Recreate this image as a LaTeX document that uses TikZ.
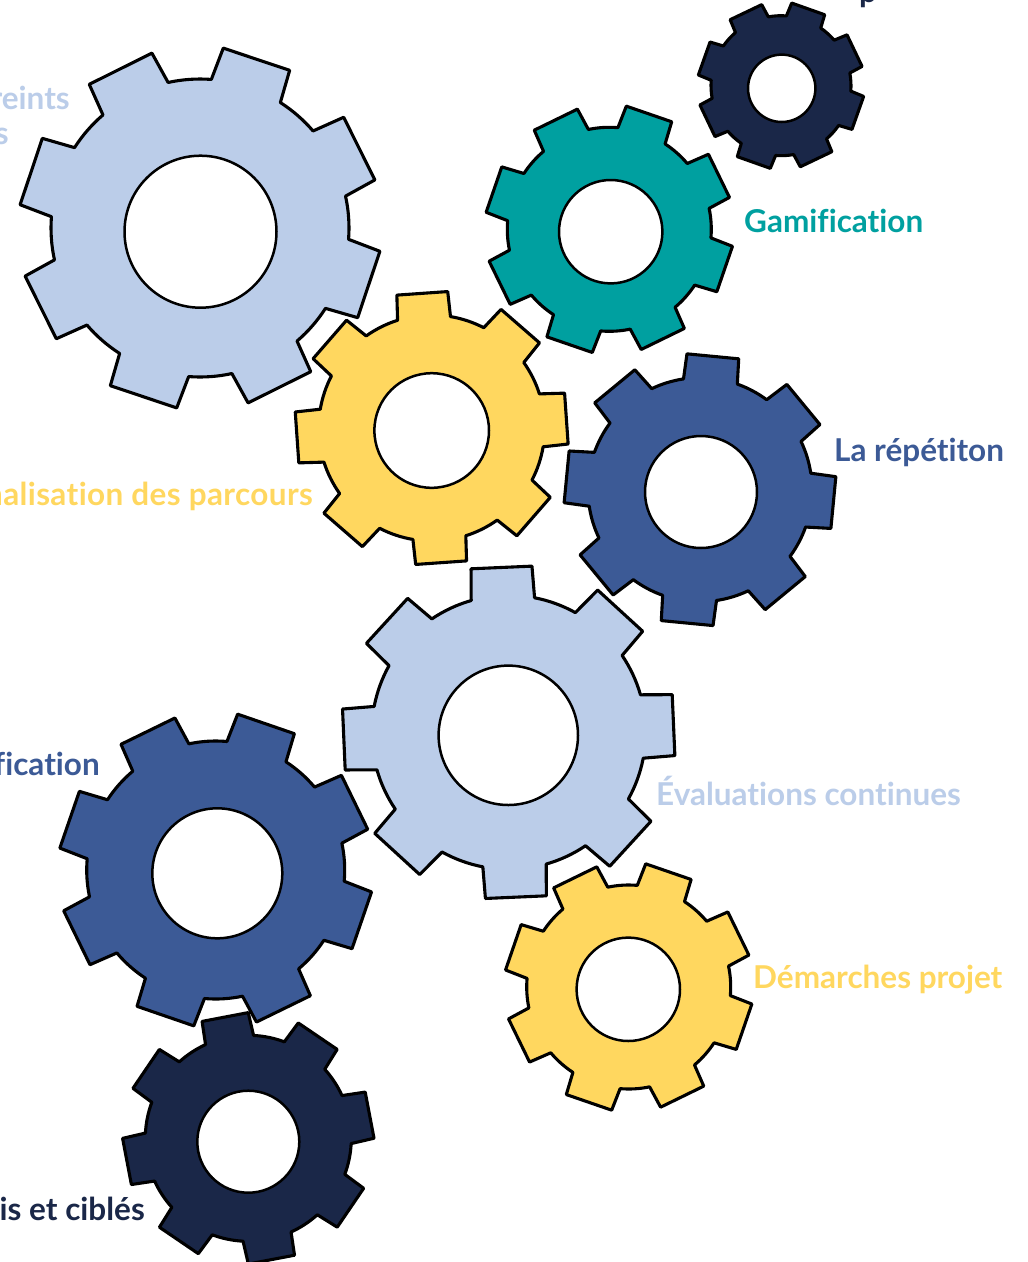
\documentclass[tikz,border=0pt]{standalone}
\usepackage{fontspec}
\newfontfamily\lblfont{Lato}[BoldFont={Lato Bold},Ligatures=NoCommon]
\definecolor{gLight}{HTML}{BBCDE9}
\definecolor{gYellow}{HTML}{FFD75F}
\definecolor{gTeal}{HTML}{00A0A0}
\definecolor{gBlue}{HTML}{3C5A96}
\definecolor{gNavy}{HTML}{1A2748}
\tikzset{
  gearline/.style={draw=black,line width=3.1pt,line join=round},
  holeline/.style={draw=black,line width=2.5pt,fill=white},
  lbl/.style={inner sep=0pt,font=\fontsize{31.5}{36}\selectfont\lblfont\bfseries}
}
% fill, cx, cy, rotation, tip radius, root radius, half tooth width, hole centre, hole radius
\newcommand{\cog}[9]{%
  \begin{scope}[shift={(#2,#3)}]
    \pgfmathsetmacro\cogda{asin(1.04*#7/#6)}
    \pgfmathsetmacro\cogdb{atan(#7/#5)}
    \pgfmathsetmacro\cogdt{veclen(#5,#7)}
    \draw[gearline,fill=#1] (#4-45+\cogda:#6)
      \foreach \a in {0,45,...,315} {
        arc[start angle=#4+\a-45+\cogda,end angle=#4+\a-\cogda,radius=#6]
        -- (#4+\a-\cogdb:\cogdt) -- (#4+\a+\cogdb:\cogdt) -- (#4+\a+\cogda:#6)
      } -- cycle;
  \end{scope}
  \draw[holeline] #8 circle[radius=#9];
}
\begin{document}
\begin{tikzpicture}[x=1pt,y=1pt]
\useasboundingbox (0,0) rectangle (1028,-1262);
\fill[white] (0,0) rectangle (1028,-1262);
\cog{gLight}{200}{-228}{26.5}{178}{149}{35}{(200.5,-231.7)}{76}
\cog{gNavy}{781}{-85.7}{25.5}{81.5}{70}{17.5}{(781.7,-88.3)}{33.7}
\cog{gTeal}{609.3}{-229.3}{26}{122}{102}{24}{(610.7,-231.7)}{51.7}
\cog{gYellow}{431.7}{-428}{4}{135}{113}{25.5}{(431.7,-430.5)}{57.3}
\cog{gBlue}{700}{-489.7}{-5.5}{134}{112}{26}{(701,-492)}{56}
\cog{gLight}{508.7}{-732.3}{2.5}{165}{137}{30.5}{(508.3,-735.3)}{69.7}
\cog{gBlue}{215.7}{-870}{26}{154.5}{129}{30}{(217.3,-873.3)}{65}
\cog{gYellow}{628.7}{-987}{26}{122}{102}{24}{(628.3,-989.3)}{51.7}
\cog{gNavy}{248.3}{-1138.3}{10.8}{123.5}{103}{23.5}{(248.3,-1141.7)}{51}
\node[lbl,text=gLight,anchor=base east] (t1) at (70,-109) {reints};
\node[lbl,text=gLight,anchor=base east] (t2) at (9,-144) {s};
\node[lbl,text=gNavy,anchor=base west] (t3) at (859,-2) {p};
\node[lbl,text=gTeal,anchor=base west] (t4) at (744,-232) {Gamification};
\node[lbl,text=gBlue,anchor=base west] (t5) at (834,-461) {La répétiton};
\node[lbl,text=gYellow,anchor=base east] (t6) at (313,-505) {\addfontfeature{LetterSpace=1.2}nalisation des parcours};
\node[lbl,text=gBlue,anchor=base east] (t7) at (100,-775) {fication};
\node[lbl,text=gLight,anchor=base west] (t8) at (656,-805) {Évaluations continues};
\node[lbl,text=gYellow,anchor=base west] (t9) at (753,-988) {Démarches projet};
\node[lbl,text=gNavy,anchor=base east] (t10) at (145,-1220) {is et ciblés};
\end{tikzpicture}
\end{document}
